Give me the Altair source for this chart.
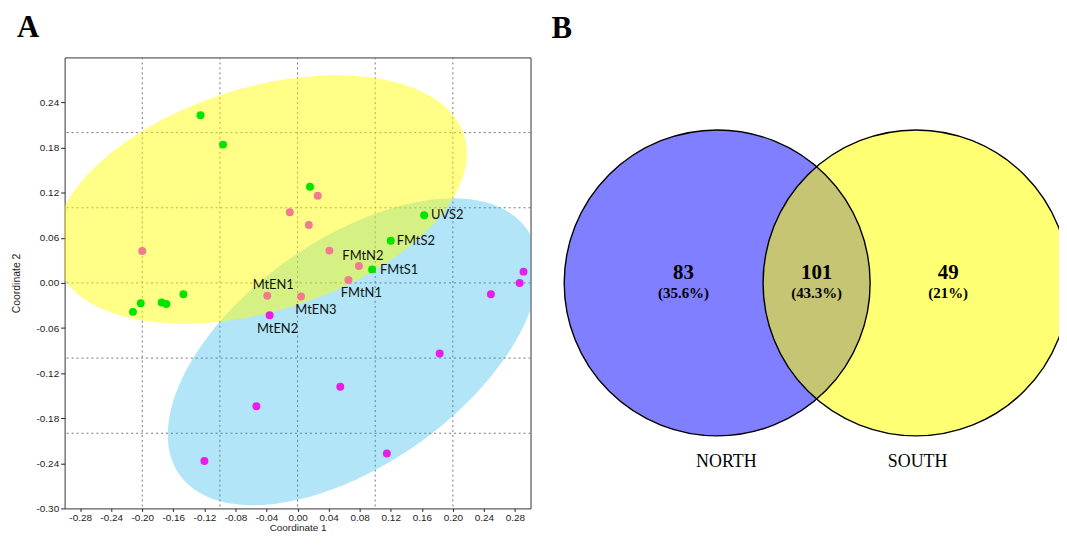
import numpy as np
import pandas as pd
import altair as alt

# ---------------- Panel A : PCoA scatter ----------------
green_x = [-0.125, -0.096, 0.016, 0.163, 0.120, 0.096, -0.147, -0.202, -0.175, -0.169, -0.212]
green_y = [0.223, 0.184, 0.128, 0.090, 0.056, 0.018, -0.015, -0.027, -0.026, -0.028, -0.0385]
green_names = ["", "", "", "UVS2", "FMtS2", "FMtS1", "", "", "", "", ""]

pink_x = [0.026, -0.010, 0.0145, -0.200, 0.041, 0.079, 0.0655, -0.039, 0.0045]
pink_y = [0.116, 0.094, 0.077, 0.0425, 0.043, 0.0225, 0.004, -0.017, -0.018]
pink_names = ["", "", "", "", "", "FMtN2", "FMtN1", "MtEN1", "MtEN3"]

magenta_x = [-0.036, 0.291, 0.286, 0.249, 0.183, 0.055, -0.053, -0.120, 0.115]
magenta_y = [-0.043, 0.015, 0.000, -0.015, -0.094, -0.138, -0.164, -0.237, -0.227]
magenta_names = ["MtEN2", "", "", "", "", "", "", "", ""]

x_ticks = [-0.28, -0.24, -0.20, -0.16, -0.12, -0.08, -0.04, 0.00,
           0.04, 0.08, 0.12, 0.16, 0.20, 0.24, 0.28]
y_ticks = [-0.30, -0.24, -0.18, -0.12, -0.06, 0.00, 0.06, 0.12, 0.18, 0.24]
grid_vals = [-0.2, -0.1, 0.0, 0.1, 0.2]

# 95% ellipses: centre, semi-axes, rotation (deg)
ell_names = ["yellow", "blue"]
ell_cx = [-0.048, 0.0715]
ell_cy = [0.111, -0.0916]
ell_a = [0.276, 0.277]
ell_b = [0.148, 0.148]
ell_angle = [18.4, 36.9]

# ---------------- Panel B : Venn ----------------
venn_sets = ["NORTH", "SOUTH"]
venn_cx = [-0.65, 0.65]
venn_cy = [0.0, 0.0]
region_counts = ["83", "101", "49"]
region_pcts = ["(35.6%)", "(43.3%)", "(21%)"]
region_x = [-0.87, 0.0, 0.86]
name_x = [-0.59, 0.66]
name_y = [-1.17, -1.17]

# ---------------- styling ----------------
AXIS_FONT = "Liberation Sans"
SERIF = "Liberation Serif"
W1, H1 = 469, 454
PX_UNIT = 154  # venn pixels per unit radius
L2 = 553
W2 = 510
H2 = 454
TOP, BOTTOM = 56, 510
CIRCLE_SIZE = float((2 * PX_UNIT) ** 2)  # vega circle: r = sqrt(size)/2

xs = alt.Scale(domain=[-0.30, 0.30], nice=False, zero=False)
ys = alt.Scale(domain=[-0.30, 0.30], nice=False, zero=False)

label_expr = "replace(datum.label, '\u2212', '-')"
x_axis = alt.Axis(values=x_ticks, format=".2f", labelExpr=label_expr, grid=False, domain=False,
                  tickSize=3, tickColor="#222", labelColor="#222", labelFont=AXIS_FONT,
                  labelFontSize=10, labelPadding=1, title="Coordinate 1", titleFont=AXIS_FONT,
                  titleFontSize=10, titleFontWeight="normal", titleColor="#222", titlePadding=0)
y_axis = alt.Axis(values=y_ticks, format=".2f", labelExpr=label_expr, grid=False, domain=False,
                  tickSize=4, tickColor="#222", labelColor="#222", labelFont=AXIS_FONT,
                  labelFontSize=10, labelPadding=2, title="Coordinate 2", titleFont=AXIS_FONT,
                  titleFontSize=10.5, titleFontWeight="normal", titleColor="#222", titlePadding=15)


def X(field):
    return alt.X(field, scale=xs, axis=x_axis)


def Y(field):
    return alt.Y(field, scale=ys, axis=y_axis)


def ellipse_df(cx, cy, a, b, ang):
    t = np.linspace(0, 2 * np.pi, 241)
    th = np.radians(ang)
    x = cx + a * np.cos(th) * np.cos(t) - b * np.sin(th) * np.sin(t)
    y = cy + a * np.sin(th) * np.cos(t) + b * np.cos(th) * np.sin(t)
    return pd.DataFrame({"x": x, "y": y, "i": np.arange(len(t))})


ell = {n: ellipse_df(ell_cx[k], ell_cy[k], ell_a[k], ell_b[k], ell_angle[k])
       for k, n in enumerate(ell_names)}

grid_df = pd.DataFrame({"v": grid_vals})
grid_v = alt.Chart(grid_df).mark_rule(color="#777", strokeDash=[2, 3], strokeWidth=1).encode(x=X("v:Q"))
grid_h = alt.Chart(grid_df).mark_rule(color="#777", strokeDash=[2, 3], strokeWidth=1).encode(y=Y("v:Q"))

blue_ell = alt.Chart(ell["blue"]).mark_line(
    fill="#00AAE6", fillOpacity=0.3, strokeOpacity=0, clip=True).encode(
    x=X("x:Q"), y=Y("y:Q"), order="i:Q")
yellow_ell = alt.Chart(ell["yellow"]).mark_line(
    fill="#FFFF00", fillOpacity=0.47, strokeOpacity=0, clip=True).encode(
    x=X("x:Q"), y=Y("y:Q"), order="i:Q")

pts = pd.concat([
    pd.DataFrame({"x": green_x, "y": green_y, "name": green_names, "grp": "g"}),
    pd.DataFrame({"x": pink_x, "y": pink_y, "name": pink_names, "grp": "p"}),
    pd.DataFrame({"x": magenta_x, "y": magenta_y, "name": magenta_names, "grp": "m"}),
], ignore_index=True)

points = alt.Chart(pts).mark_circle(size=64, opacity=1).encode(
    x=X("x:Q"), y=Y("y:Q"),
    color=alt.Color("grp:N", scale=alt.Scale(domain=["g", "p", "m"],
                                             range=["#00E400", "#F27A8F", "#E81EE8"]), legend=None))

label_style = {
    "UVS2": ("left", 7, 0),
    "FMtS2": ("left", 6, 0),
    "FMtS1": ("left", 8, 1),
    "FMtN2": ("center", 4, -10),
    "FMtN1": ("center", 13, 13),
    "MtEN1": ("center", 6, -11),
    "MtEN3": ("center", 15, 14),
    "MtEN2": ("center", 8, 14),
}
label_layers = []
for nm, (al, dx, dy) in label_style.items():
    label_layers.append(
        alt.Chart(pts[pts["name"] == nm]).mark_text(
            align=al, baseline="middle", dx=dx, dy=dy, font="Lato", fontSize=13, color="#111").encode(
            x=X("x:Q"), y=Y("y:Q"), text="name:N"))

title_kw = dict(anchor="start", frame="group", fontSize=31, font=SERIF, fontWeight="bold",
                color="black", offset=13)

panelA = alt.layer(grid_v, grid_h, blue_ell, yellow_ell, points, *label_layers).properties(
    width=W1, height=H1,
    title=alt.TitleParams(text="A", dx=-48, **title_kw),
    view=alt.ViewBackground(stroke="#333333", strokeWidth=1))

# ---------------- Venn panel ----------------
vx = alt.Scale(domain=[(L2 - 819) / PX_UNIT, (L2 + W2 - 819) / PX_UNIT], nice=False, zero=False)
vy = alt.Scale(domain=[(283 - BOTTOM) / PX_UNIT, (283 - TOP) / PX_UNIT], nice=False, zero=False)

circ = pd.DataFrame({"set": venn_sets, "cx": venn_cx, "cy": venn_cy})
enc_c = dict(x=alt.X("cx:Q", scale=vx, axis=None), y=alt.Y("cy:Q", scale=vy, axis=None))

north_fill = alt.Chart(circ[circ["set"] == "NORTH"]).mark_circle(
    size=CIRCLE_SIZE, color="#7F7FFF", opacity=1, clip=True).encode(**enc_c)
south_fill = alt.Chart(circ[circ["set"] == "SOUTH"]).mark_circle(
    size=CIRCLE_SIZE, color="#FFFF00", opacity=0.55, clip=True).encode(**enc_c)
outlines = alt.Chart(circ).mark_point(
    shape="circle", filled=False, size=CIRCLE_SIZE, color="black", strokeWidth=1.4,
    opacity=1, clip=True).encode(**enc_c)

reg = pd.DataFrame({"x": region_x, "y": [0.0, 0.0, 0.0], "n": region_counts, "p": region_pcts})
enc_r = dict(x=alt.X("x:Q", scale=vx, axis=None), y=alt.Y("y:Q", scale=vy, axis=None))
counts = alt.Chart(reg).mark_text(font=SERIF, fontWeight="bold", fontSize=21, color="black",
                                  baseline="middle", dy=-10).encode(text="n:N", **enc_r)
pcts = alt.Chart(reg).mark_text(font=SERIF, fontWeight="bold", fontSize=15, color="black",
                                baseline="middle", dy=10).encode(text="p:N", **enc_r)

names = pd.DataFrame({"x": name_x, "y": name_y, "s": venn_sets})
set_names = alt.Chart(names).mark_text(font=SERIF, fontSize=18, color="black",
                                       baseline="middle").encode(
    x=alt.X("x:Q", scale=vx, axis=None), y=alt.Y("y:Q", scale=vy, axis=None), text="s:N")

panelB = alt.layer(north_fill, south_fill, outlines, counts, pcts, set_names).properties(
    width=W2, height=H2,
    title=alt.TitleParams(text="B", dx=-1, **title_kw),
    view=alt.ViewBackground(strokeOpacity=0))

chart = alt.hconcat(panelA, panelB, spacing=20).properties(
    padding={"left": 2, "top": 2, "right": 0, "bottom": 0}).configure(background="white")

chart.save("out.html", embed_options={"renderer": "svg", "actions": False})
